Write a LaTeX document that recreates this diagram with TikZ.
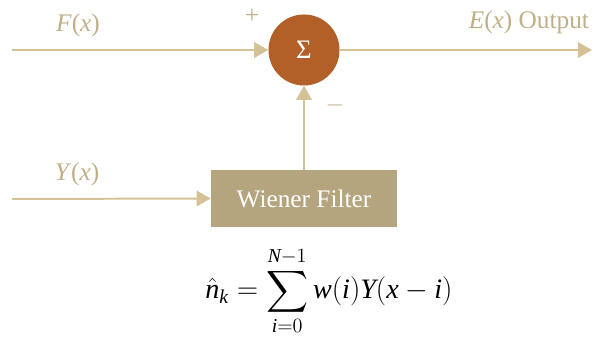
\documentclass[tikz,border=0pt]{standalone}
\usepackage{amsmath}
\usepackage{exscale}
\usepackage{fontspec}
\setmainfont{Liberation Serif}
\usetikzlibrary{arrows.meta}
\definecolor{LineaTan}{RGB}{212,194,150}
\definecolor{TextoTan}{RGB}{190,175,135}
\definecolor{SumaCobre}{RGB}{178,96,40}
\definecolor{CajaTan}{RGB}{181,165,126}
\begin{document}
\begin{tikzpicture}[x=0.025cm,y=-0.025cm,>={Triangle[length=10pt,width=11pt]},
  linea/.style={->,line width=1.4pt,LineaTan},
  etiqueta/.style={font=\fontsize{18}{20}\selectfont,TextoTan}]
  \useasboundingbox (0,0) rectangle (595,340);
  \node[circle,fill=SumaCobre,minimum size=1.775cm,inner sep=0pt,text=white,font=\fontsize{19}{20}\selectfont] (suma) at (304,50) {Σ};
  \node[fill=CajaTan,minimum width=4.65cm,minimum height=1.425cm,inner sep=0pt,text=white,font=\fontsize{18}{20}\selectfont] (filtro) at (304,198.5) {Wiener Filter};
  \coordinate (fin) at (12,50);
  \coordinate (yin) at (12,199);
  \coordinate (salida) at (592,50);
  \draw[linea] (fin) -- (suma.west);
  \draw[linea] (suma.east) -- (salida);
  \draw[linea] (yin) -- (filtro.west);
  \draw[linea] (filtro.north) -- (suma.south);
  \node[etiqueta] (fx) at (78,25) {\textit{F}(\textit{x})};
  \node[etiqueta] (mas) at (252,16) {+};
  \node[etiqueta,anchor=east] (ex) at (594,22) {\textit{E}(\textit{x}) Output};
  \node[etiqueta] (yx) at (77,174) {\textit{Y}(\textit{x})};
  \node[etiqueta] (menos) at (335,105) {$-$};
  \node[font=\fontsize{20}{24}\selectfont] (formula) at (329,291)
    {$\displaystyle\hat{\mathit{n}}_{\mathit{k}}=\sum_{\mathit{i}=0}^{\mathit{N}-1}\mathit{w}(\mathit{i})\mathit{Y}(\mathit{x}-\mathit{i})$};
\end{tikzpicture}
\end{document}
